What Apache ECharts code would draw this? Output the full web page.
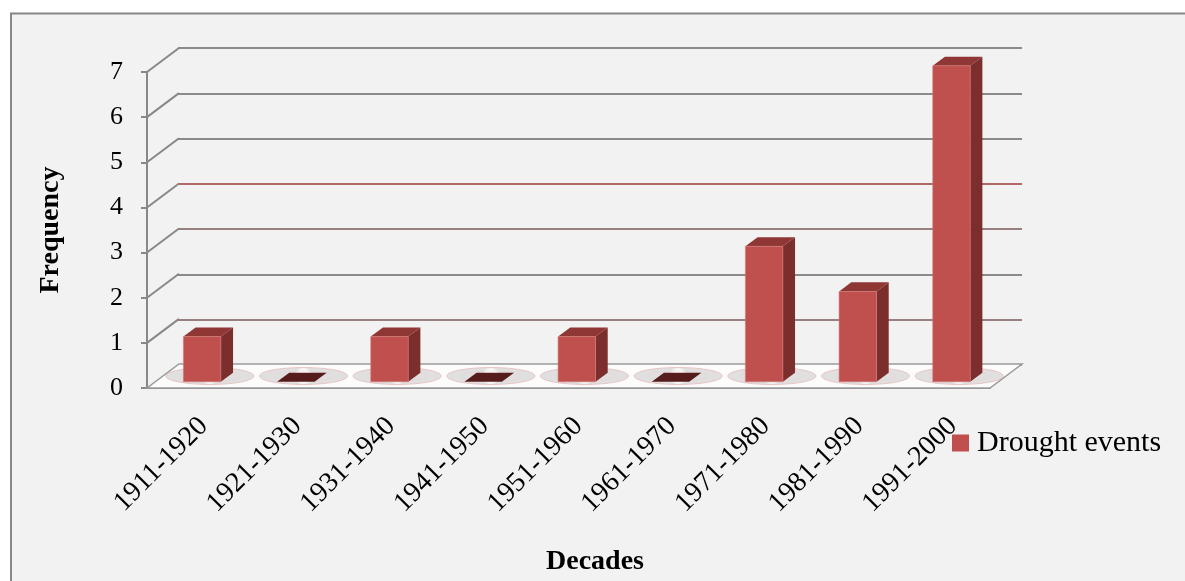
<!DOCTYPE html>
<html>
<head>
<meta charset="utf-8">
<title>Drought events</title>
<script src="https://cdn.jsdelivr.net/npm/echarts@6/dist/echarts.min.js"></script>
<style>
    html, body { margin: 0; padding: 0; background: #fff; }
    #main { width: 1185px; height: 581px; }
</style>
</head>
<body>
<div id="main"></div>
<script>
// 数据
var categories = ['1911-1920', '1921-1930', '1931-1940', '1941-1950', '1951-1960',
                  '1961-1970', '1971-1980', '1981-1990', '1991-2000'];
var droughtEvents = [1, 0, 1, 0, 1, 0, 3, 2, 7];
var yTicks = [0, 1, 2, 3, 4, 5, 6, 7];

// 3D 深度偏移
var DX = 32, DY = -24;
var F1 = 0.26, F2 = 0.64;
var SERIF = '"Liberation Serif", "Times New Roman", serif';
var GRAY = '#888888';

var myChart = echarts.init(document.getElementById('main'));

// 柱子
function renderBar(params, api) {
    var i = api.value(0), v = api.value(1);
    var base = api.coord([i, 0]);
    var top = api.coord([i, v]);
    var bw = api.size([1, 0])[0] * 0.4;
    var xl = base[0] - bw / 2 + F1 * DX, xr = xl + bw;
    var yb = base[1] + F1 * DY, yt = top[1] + F1 * DY;
    var ddx = (F2 - F1) * DX, ddy = (F2 - F1) * DY;
    var topFace = [[xl, yt], [xl + ddx, yt + ddy], [xr + ddx, yt + ddy], [xr, yt]];
    if (v === 0) {
        return { type: 'polygon', shape: { points: topFace }, style: { fill: '#561b1b' } };
    }
    return {
        type: 'group',
        children: [
            { type: 'polygon', shape: { points: [[xr, yt], [xr + ddx, yt + ddy], [xr + ddx, yb + ddy], [xr, yb]] },
              style: { fill: '#7b2e2c' } },
            { type: 'polygon', shape: { points: topFace }, style: { fill: '#8e3735' } },
            { type: 'rect', shape: { x: xl, y: yt, width: bw, height: yb - yt },
              style: { fill: '#c0504d', stroke: '#d27a77', lineWidth: 0.6 } }
        ]
    };
}

// 底板 + 左侧斜线
function renderFrame(params, api) {
    var cs = params.coordSys;
    var v = api.value(1);
    var p = api.coord([0, v]);
    if (v === 0) {
        var y0 = p[1];
        return {
            type: 'polygon',
            shape: { points: [[cs.x, y0], [cs.x + cs.width, y0], [cs.x + cs.width + DX, y0 + DY], [cs.x + DX, y0 + DY]] },
            style: { fill: '#fcfcfc', stroke: '#9a9a9a', lineWidth: 1.5 }
        };
    }
    return {
        type: 'line',
        shape: { x1: cs.x, y1: p[1], x2: cs.x + DX, y2: p[1] + DY },
        style: { stroke: GRAY, lineWidth: 2 }
    };
}

// 底板上的椭圆纹理
function renderFloorMark(params, api) {
    var i = api.value(0);
    var p = api.coord([i, 0]);
    var w = api.size([1, 0])[0];
    var cx = p[0] + 0.5 * DX, cy = p[1] + 0.5 * DY;
    return {
        type: 'group',
        children: [
            { type: 'ellipse', shape: { cx: cx, cy: cy, rx: w * 0.47, ry: 8.5 },
              style: {
                  fill: new echarts.graphic.RadialGradient(0.5, 0.5, 0.5, [
                      { offset: 0, color: 'rgba(255,255,255,0)' },
                      { offset: 0.6, color: 'rgba(255,255,255,0)' },
                      { offset: 1, color: 'rgba(150,150,150,0.28)' }
                  ]),
                  stroke: '#e6b3b1', lineWidth: 0.7
              } },
            { type: 'ellipse', shape: { cx: cx, cy: cy, rx: w * 0.32, ry: 5 },
              style: { fill: 'none', stroke: '#efcfce', lineWidth: 0.6 } }
        ]
    };
}

var option = {
    backgroundColor: '#f2f2f2',
    animation: false,
    graphic: [
        { type: 'rect', shape: { x: 0, y: 0, width: 1185, height: 12.5 }, style: { fill: '#fff' }, silent: true },
        { type: 'rect', shape: { x: 0, y: 0, width: 10, height: 581 }, style: { fill: '#fff' }, silent: true },
        { type: 'line', shape: { x1: 10, y1: 13.5, x2: 1185, y2: 13.5 }, style: { stroke: GRAY, lineWidth: 2 }, silent: true },
        { type: 'line', shape: { x1: 11, y1: 13.5, x2: 11, y2: 581 }, style: { stroke: GRAY, lineWidth: 2 }, silent: true }
    ],
    legend: {
        data: ['Drought events'],
        left: 952,
        top: 428,
        padding: 0,
        icon: 'rect',
        itemWidth: 17,
        itemHeight: 17,
        textStyle: { fontFamily: SERIF, fontSize: 30, color: '#000', padding: [0, 0, 0, 3] }
    },
    grid: [
        { left: 147, right: 195, top: 72, bottom: 192 },   // 前平面
        { left: 178, right: 163, top: 48, bottom: 216 }    // 后平面
    ],
    xAxis: [
        {
            type: 'category',
            gridIndex: 0,
            data: categories,
            name: 'Decades',
            nameLocation: 'middle',
            nameGap: 160,
            nameTextStyle: { fontFamily: SERIF, fontSize: 28, fontWeight: 'bold', color: '#000', padding: [0, 0, 0, 53] },
            axisLine: { lineStyle: { color: GRAY, width: 2 } },
            axisTick: { length: 7, lineStyle: { color: GRAY, width: 2 } },
            axisLabel: {
                rotate: 45,
                margin: 24,
                verticalAlign: 'top',
                interval: 0,
                fontFamily: SERIF,
                fontSize: 28,
                color: '#000'
            }
        },
        {
            type: 'category',
            gridIndex: 1,
            data: categories,
            show: false
        }
    ],
    yAxis: [
        {
            type: 'value',
            gridIndex: 0,
            min: 0,
            max: 7,
            interval: 1,
            name: 'Frequency',
            nameLocation: 'middle',
            nameGap: 82,
            nameTextStyle: { fontFamily: SERIF, fontSize: 28, fontWeight: 'bold', color: '#000' },
            axisLine: { show: true, lineStyle: { color: GRAY, width: 2 } },
            axisTick: { show: true, length: 6, lineStyle: { color: GRAY, width: 2 } },
            splitLine: { show: false },
            axisLabel: { margin: 24, fontFamily: SERIF, fontSize: 26, color: '#000' }
        },
        {
            type: 'value',
            gridIndex: 1,
            min: 0,
            max: 7,
            interval: 1,
            axisLine: { show: false },
            axisTick: { show: false },
            axisLabel: { show: false },
            splitLine: {
                show: true,
                lineStyle: {
                    width: 2,
                    color: ['#8a8a8a', '#988080', '#8a8a8a', '#988080', '#b26866', '#8a8a8a', '#8a8a8a', '#8a8a8a']
                }
            }
        }
    ],
    series: [
        {
            name: 'frame',
            type: 'custom',
            xAxisIndex: 0,
            yAxisIndex: 0,
            z: 1,
            silent: true,
            renderItem: renderFrame,
            data: yTicks.map(function (v) { return [0, v]; })
        },
        {
            name: 'floor',
            type: 'custom',
            xAxisIndex: 0,
            yAxisIndex: 0,
            z: 2,
            silent: true,
            renderItem: renderFloorMark,
            data: categories.map(function (c, i) { return [i, 0]; })
        },
        {
            name: 'Drought events',
            type: 'custom',
            xAxisIndex: 0,
            yAxisIndex: 0,
            z: 3,
            itemStyle: { color: '#c0504d' },
            renderItem: renderBar,
            data: droughtEvents.map(function (v, i) { return [i, v]; })
        }
    ]
};

myChart.setOption(option);
</script>
</body>
</html>
